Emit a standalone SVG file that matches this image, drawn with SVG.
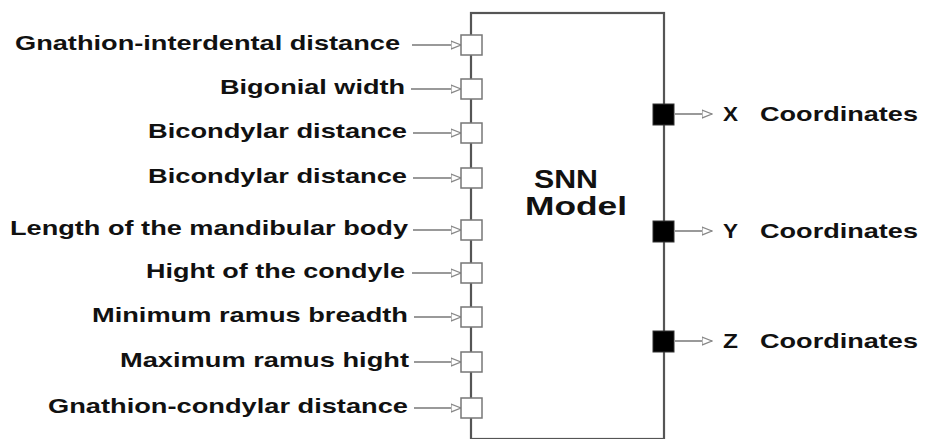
<svg xmlns="http://www.w3.org/2000/svg" width="925" height="439" viewBox="0 0 925 439">
<defs>
<marker id="tri" viewBox="0 0 10 10" refX="10" refY="5" markerWidth="11" markerHeight="10" markerUnits="userSpaceOnUse" orient="auto">
<path d="M0,1 L10,5 L0,9 Z" fill="#fff" stroke="#888" stroke-width="1.2"/>
</marker>
<style>
.lbl{font-family:"Liberation Sans",Arial,sans-serif;font-weight:bold;font-size:21px;fill:#111}
.big{font-family:"Liberation Sans",Arial,sans-serif;font-weight:bold;font-size:25px;fill:#111}
.in{fill:#fff;stroke:#777;stroke-width:1.5}
.out{fill:#000;stroke:#333;stroke-width:1}
.wire{stroke:#777;stroke-width:1.5;fill:none}
</style>
</defs>
<rect width="925" height="439" fill="#fff"/>
<g id="model">
<rect x="471" y="13" width="193" height="426" fill="#fff" stroke="#555" stroke-width="2.2"/>
<text class="big" x="534" y="188" textLength="64" lengthAdjust="spacingAndGlyphs">SNN</text>
<text class="big" x="525" y="215" textLength="102" lengthAdjust="spacingAndGlyphs">Model</text>
</g>
<g id="connectors">
<line class="wire" x1="412" y1="45" x2="461" y2="45" marker-end="url(#tri)"/>
<line class="wire" x1="411" y1="89" x2="461" y2="89" marker-end="url(#tri)"/>
<line class="wire" x1="413" y1="133" x2="461" y2="133" marker-end="url(#tri)"/>
<line class="wire" x1="413" y1="178" x2="461" y2="178" marker-end="url(#tri)"/>
<line class="wire" x1="413" y1="230" x2="461" y2="230" marker-end="url(#tri)"/>
<line class="wire" x1="412" y1="273" x2="461" y2="273" marker-end="url(#tri)"/>
<line class="wire" x1="414" y1="317" x2="461" y2="317" marker-end="url(#tri)"/>
<line class="wire" x1="414" y1="362" x2="461" y2="362" marker-end="url(#tri)"/>
<line class="wire" x1="414" y1="408" x2="461" y2="408" marker-end="url(#tri)"/>
<line class="wire" x1="675" y1="114" x2="712" y2="114" marker-end="url(#tri)"/>
<line class="wire" x1="675" y1="231" x2="712" y2="231" marker-end="url(#tri)"/>
<line class="wire" x1="675" y1="341" x2="712" y2="341" marker-end="url(#tri)"/>
</g>
<g id="in1"><rect class="in" x="461" y="35" width="21" height="20"/><text class="lbl" x="15" y="50" textLength="385" lengthAdjust="spacingAndGlyphs">Gnathion-interdental distance</text></g>
<g id="in2"><rect class="in" x="461" y="79" width="21" height="20"/><text class="lbl" x="220" y="94" textLength="185" lengthAdjust="spacingAndGlyphs">Bigonial width</text></g>
<g id="in3"><rect class="in" x="461" y="123" width="21" height="20"/><text class="lbl" x="148" y="138" textLength="259" lengthAdjust="spacingAndGlyphs">Bicondylar distance</text></g>
<g id="in4"><rect class="in" x="461" y="168" width="21" height="20"/><text class="lbl" x="148" y="183" textLength="259" lengthAdjust="spacingAndGlyphs">Bicondylar distance</text></g>
<g id="in5"><rect class="in" x="461" y="220" width="21" height="20"/><text class="lbl" x="10" y="235" textLength="398" lengthAdjust="spacingAndGlyphs">Length of the mandibular body</text></g>
<g id="in6"><rect class="in" x="461" y="263" width="21" height="20"/><text class="lbl" x="146" y="278" textLength="259" lengthAdjust="spacingAndGlyphs">Hight of the condyle</text></g>
<g id="in7"><rect class="in" x="461" y="307" width="21" height="20"/><text class="lbl" x="92" y="322" textLength="316" lengthAdjust="spacingAndGlyphs">Minimum ramus breadth</text></g>
<g id="in8"><rect class="in" x="461" y="352" width="21" height="20"/><text class="lbl" x="120" y="367" textLength="289" lengthAdjust="spacingAndGlyphs">Maximum ramus hight</text></g>
<g id="in9"><rect class="in" x="461" y="398" width="21" height="20"/><text class="lbl" x="48" y="413" textLength="360" lengthAdjust="spacingAndGlyphs">Gnathion-condylar distance</text></g>
<g id="outX"><rect class="out" x="653" y="104" width="21" height="21"/><text class="lbl" x="723" y="121" textLength="15" lengthAdjust="spacingAndGlyphs">X</text><text class="lbl" x="760" y="121" textLength="158" lengthAdjust="spacingAndGlyphs">Coordinates</text></g>
<g id="outY"><rect class="out" x="653" y="221" width="21" height="21"/><text class="lbl" x="723" y="238" textLength="15" lengthAdjust="spacingAndGlyphs">Y</text><text class="lbl" x="760" y="238" textLength="158" lengthAdjust="spacingAndGlyphs">Coordinates</text></g>
<g id="outZ"><rect class="out" x="653" y="331" width="21" height="21"/><text class="lbl" x="723" y="348" textLength="15" lengthAdjust="spacingAndGlyphs">Z</text><text class="lbl" x="760" y="348" textLength="158" lengthAdjust="spacingAndGlyphs">Coordinates</text></g>
</svg>
